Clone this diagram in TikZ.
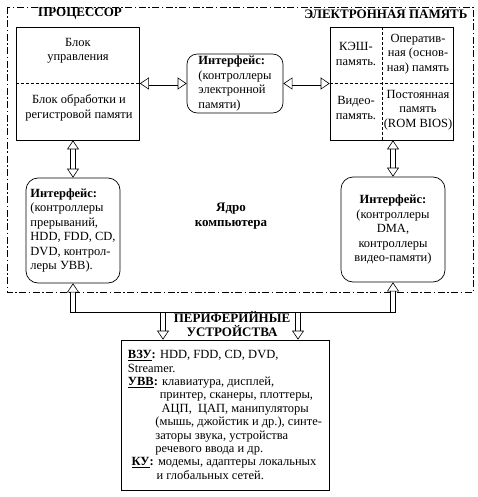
\documentclass[tikz,border=0pt]{standalone}
\usepackage{fontspec}
\setmainfont{Liberation Serif}
\usetikzlibrary{arrows.meta,positioning}

\begin{document}
\begin{tikzpicture}[
    x=1pt, y=-1pt,
    font=\fontsize{12.5}{14.5}\selectfont,
    >={Triangle[open, line width=0.6pt, length=9pt, width=12pt]},
    box/.style={draw, line width=0.7pt, minimum width=123pt, minimum height=113pt},
    ibox/.style={draw, line width=0.7pt, rounded corners=12pt, inner sep=2pt},
    title/.style={font=\fontsize{13}{14.5}\selectfont\bfseries, align=center},
    split/.style={dash pattern=on 3pt off 2pt, line width=0.6pt},
    frame/.style={dash pattern=on 7pt off 2.5pt on 1.5pt off 2.5pt, line width=0.6pt},
    pipe/.style={double, double distance=4pt, line width=0.6pt, ->},
    pipes/.style={double, double distance=4pt, line width=0.6pt, <->}
]
\useasboundingbox (0,0) rectangle (478,497);

% Computer core frame
\draw[frame] (7,7) rectangle (473,292);
\node[title] (ptitle) at (80,14) {ПРОЦЕССОР};
\node[title, anchor=east] (mtitle) at (471,14) {ЭЛЕКТРОННАЯ ПАМЯТЬ};
\node[title] (core) at (231,216) {Ядро\\компьютера};

% Processor
\node[box] (proc) at (78,83.5) {};
\draw[split] (proc.west) -- (proc.east);
\node[align=center] (ctrl) at (78,51) {Блок\\управления};
\node[align=center] (alu) at (79,108) {Блок обработки и\\регистровой памяти};

% Memory
\node[box] (mem) at (391.5,83.5) {};
\draw[split] (mem.west) -- (mem.east);
\draw[split] ([xshift=-9.5pt]mem.north) -- ([xshift=-9.5pt]mem.south);
\node[align=center] (cache) at (356,54) {КЭШ-\\память.};
\node[align=center] (ram) at (418,54) {Оператив-\\ная (основ-\\ная) память};
\node[align=center] (video) at (356,108) {Видео-\\память.};
\node[align=center] (rom) at (418,110) {Постоянная\\память\\(ROM BIOS)};

% Interfaces
\node[ibox, rounded corners=10pt, minimum width=96pt, minimum height=57pt, align=left] (miface) at (235,83.5)
    {\textbf{Интерфейс:}\\(контроллеры\\электронной\\памяти)};
\node[ibox, minimum width=94pt, minimum height=105pt, align=left] (liface) at (73,230.5)
    {\textbf{Интерфейс:}\\(контроллеры\\прерываний,\\HDD, FDD, CD,\\DVD, контрол-\\леры УВВ).};
\node[ibox, minimum width=104pt, minimum height=105pt, align=center] (riface) at (393,229.5)
    {\textbf{Интерфейс:}\\(контроллеры\\DMA,\\контроллеры\\видео-памяти)};

% Peripheral devices
\node[title] (ptext) at (232,324) {ПЕРИФЕРИЙНЫЕ\\УСТРОЙСТВА};
\node[draw, line width=0.7pt, minimum width=208pt, minimum height=150pt, align=left,
      font=\fontsize{12.5}{13.4}\selectfont] (per) at (225,415) {%
\underline{\textbf{ВЗУ}}\textbf{:} HDD, FDD, CD, DVD,\\
Streamer.\\
\underline{\textbf{УВВ}}\textbf{:} клавиатура, дисплей,\\
\hspace*{2.55em}принтер, сканеры, плоттеры,\\
\hspace*{2.7em}АЦП,\ \ ЦАП, манипуляторы\\
\hspace*{2.2em}(мышь, джойстик и др.), синте-\\
\hspace*{2.2em}заторы звука, устройства\\
\hspace*{2.2em}речевого ввода и др.\\
\hspace*{0.3em}\underline{\textbf{КУ}}\textbf{:} модемы, адаптеры локальных\\
\hspace*{2.3em}и глобальных сетей.};

% Arrows
\draw[pipes] (proc.east |- miface) -- (miface.west);
\draw[pipes] (miface.east) -- (mem.west |- miface);
\draw[pipes] (proc.south -| liface.north) -- (liface.north);
\draw[pipes] (mem.south -| riface.north) -- (riface.north);

% Bus to peripherals
\coordinate (bus) at (0,312);
\coordinate (bl) at (liface.south |- bus);
\coordinate (br) at (riface.south |- bus);
\coordinate (d1) at (163,312);
\coordinate (d2) at (298,312);
\draw[pipe] (bl) -- (liface.south);
\draw[pipe] (br) -- (riface.south);
\draw[pipe] (d1) -- (d1 |- per.north);
\draw[pipe] (d2) -- (d2 |- per.north);
\draw[line width=0.6pt] ([xshift=-2.6pt]bl) -- ([xshift=2.6pt]br);

\end{tikzpicture}
\end{document}
